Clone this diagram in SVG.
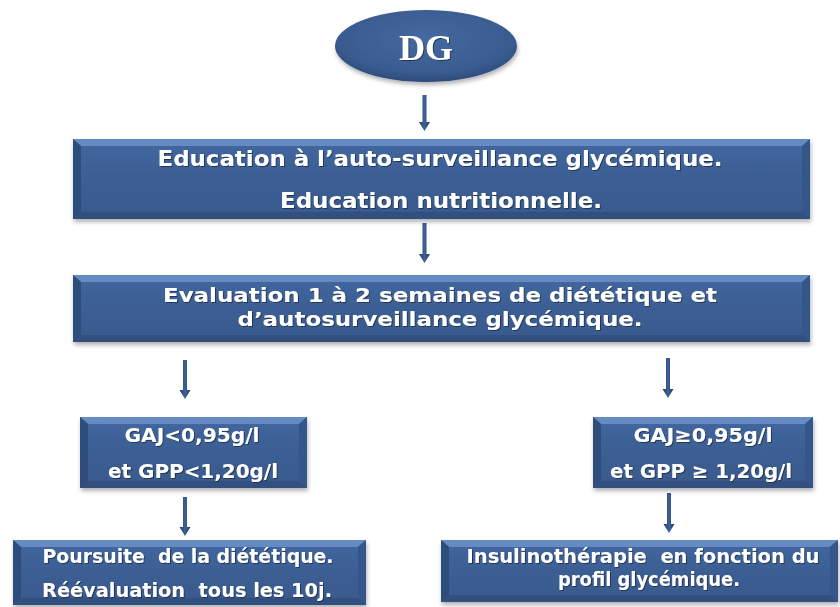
<svg xmlns="http://www.w3.org/2000/svg" width="840" height="607" viewBox="0 0 840 607">
<defs>
<linearGradient id="boxFill" x1="0" y1="0" x2="0" y2="1">
<stop offset="0" stop-color="#4168a0"/>
<stop offset="0.5" stop-color="#3b5e93"/>
<stop offset="1" stop-color="#39598c"/>
</linearGradient>
<radialGradient id="ellFill" cx="0.5" cy="0.4" r="0.6">
<stop offset="0" stop-color="#4569a0"/>
<stop offset="0.8" stop-color="#395b8f"/>
<stop offset="1" stop-color="#2d4b7a"/>
</radialGradient>
<linearGradient id="arrowFill" x1="0" y1="0" x2="1" y2="0">
<stop offset="0" stop-color="#203a62"/>
<stop offset="0.5" stop-color="#3e6198"/>
<stop offset="1" stop-color="#203a62"/>
</linearGradient>
<filter id="shadow" x="-5%" y="-10%" width="110%" height="130%">
<feDropShadow dx="1" dy="3" stdDeviation="2" flood-color="#000" flood-opacity="0.3"/>
</filter>
<filter id="tshadow" x="-5%" y="-20%" width="110%" height="150%">
<feDropShadow dx="1" dy="1" stdDeviation="0.6" flood-color="#1a2a45" flood-opacity="0.8"/>
</filter>
</defs>
<style>
.base{fill:url(#boxFill)}
.bt{fill:#6f95cc}
.bl{fill:#2f4d7c}
.br{fill:#34568a}
.bb{fill:#31507f}
.t{font-family:"DejaVu Sans","Verdana",sans-serif;font-weight:bold;fill:#ffffff;text-anchor:middle;white-space:pre;filter:url(#tshadow)}
.dg{font-family:"Liberation Serif","Times New Roman",serif;font-weight:bold;font-size:36px;fill:#ffffff;text-anchor:middle;filter:url(#tshadow)}
.arr{fill:url(#arrowFill)}
</style>
<rect width="840" height="607" fill="#ffffff"/>

<g id="connectors">
<path class="arr" d="M422.5,95 h4 v27 h3.5 l-5.5,9 l-5.5,-9 h3.5 z"/>
<path class="arr" d="M422.5,223 h4 v31 h3.5 l-5.5,9 l-5.5,-9 h3.5 z"/>
<path class="arr" d="M183,360 h4 v30 h3.5 l-5.5,9 l-5.5,-9 h3.5 z"/>
<path class="arr" d="M666,358 h4 v31 h3.5 l-5.5,9 l-5.5,-9 h3.5 z"/>
<path class="arr" d="M183,497 h4 v30 h3.5 l-5.5,9 l-5.5,-9 h3.5 z"/>
<path class="arr" d="M667,493 h4 v31 h3.5 l-5.5,9 l-5.5,-9 h3.5 z"/>
</g>

<g id="node-dg">
<ellipse cx="426" cy="46" rx="91" ry="36" fill="url(#ellFill)" filter="url(#shadow)"/>
<text class="dg" x="426" y="60">DG</text>
</g>

<g id="node-education" filter="url(#shadow)">
<rect class="base" x="73" y="139" width="737" height="80"/>
<polygon class="bt" points="73,139 810,139 802,146 81,146" opacity="0.8"/>
<polygon class="bl" points="73,139 81,146 81,212 73,219"/>
<polygon class="br" points="810,139 810,219 802,212 802,146"/>
<polygon class="bb" points="73,219 81,212 802,212 810,219"/>
<text class="t" x="440" y="166" font-size="22" textLength="565" lengthAdjust="spacingAndGlyphs">Education à l’auto-surveillance glycémique.</text>
<text class="t" x="441" y="208" font-size="22" textLength="322" lengthAdjust="spacingAndGlyphs">Education nutritionnelle.</text>
</g>

<g id="node-evaluation" filter="url(#shadow)">
<rect class="base" x="73" y="275" width="737" height="67"/>
<polygon class="bt" points="73,275 810,275 802,282 81,282" opacity="0.8"/>
<polygon class="bl" points="73,275 81,282 81,335 73,342"/>
<polygon class="br" points="810,275 810,342 802,335 802,282"/>
<polygon class="bb" points="73,342 81,335 802,335 810,342"/>
<text class="t" x="440" y="302" font-size="20" textLength="554" lengthAdjust="spacingAndGlyphs">Evaluation 1 à 2 semaines de diététique et</text>
<text class="t" x="440" y="326" font-size="20" textLength="405" lengthAdjust="spacingAndGlyphs">d’autosurveillance glycémique.</text>
</g>

<g id="node-gaj-low" filter="url(#shadow)">
<rect class="base" x="80" y="417" width="227" height="71"/>
<polygon class="bt" points="80,417 307,417 299,424 88,424" opacity="0.8"/>
<polygon class="bl" points="80,417 88,424 88,481 80,488"/>
<polygon class="br" points="307,417 307,488 299,481 299,424"/>
<polygon class="bb" points="80,488 88,481 299,481 307,488"/>
<text class="t" x="192" y="442" font-size="20" textLength="135" lengthAdjust="spacingAndGlyphs">GAJ&lt;0,95g/l</text>
<text class="t" x="193" y="478" font-size="20" textLength="170" lengthAdjust="spacingAndGlyphs">et GPP&lt;1,20g/l</text>
</g>

<g id="node-gaj-high" filter="url(#shadow)">
<rect class="base" x="593" y="417" width="220" height="71"/>
<polygon class="bt" points="593,417 813,417 805,424 601,424" opacity="0.8"/>
<polygon class="bl" points="593,417 601,424 601,481 593,488"/>
<polygon class="br" points="813,417 813,488 805,481 805,424"/>
<polygon class="bb" points="593,488 601,481 805,481 813,488"/>
<text class="t" x="703" y="442" font-size="20" textLength="139" lengthAdjust="spacingAndGlyphs">GAJ≥0,95g/l</text>
<text class="t" x="701" y="478" font-size="20" textLength="182" lengthAdjust="spacingAndGlyphs">et GPP ≥ 1,20g/l</text>
</g>

<g id="node-poursuite" filter="url(#shadow)">
<rect class="base" x="13" y="540" width="353" height="65"/>
<polygon class="bt" points="13,540 366,540 358,547 21,547" opacity="0.8"/>
<polygon class="bl" points="13,540 21,547 21,598 13,605"/>
<polygon class="br" points="366,540 366,605 358,598 358,547"/>
<polygon class="bb" points="13,605 21,598 358,598 366,605"/>
<text class="t" x="188" y="563" font-size="20" textLength="291" lengthAdjust="spacingAndGlyphs">Poursuite  de la diététique.</text>
<text class="t" x="187" y="597" font-size="20" textLength="290" lengthAdjust="spacingAndGlyphs">Réévaluation  tous les 10j.</text>
</g>

<g id="node-insulino" filter="url(#shadow)">
<rect class="base" x="441" y="540" width="397" height="62"/>
<polygon class="bt" points="441,540 838,540 830,547 449,547" opacity="0.8"/>
<polygon class="bl" points="441,540 449,547 449,595 441,602"/>
<polygon class="br" points="838,540 838,602 830,595 830,547"/>
<polygon class="bb" points="441,602 449,595 830,595 838,602"/>
<text class="t" x="643" y="563" font-size="19" textLength="353" lengthAdjust="spacingAndGlyphs">Insulinothérapie  en fonction du</text>
<text class="t" x="649" y="586" font-size="19" textLength="182" lengthAdjust="spacingAndGlyphs">profil glycémique.</text>
</g>
</svg>
